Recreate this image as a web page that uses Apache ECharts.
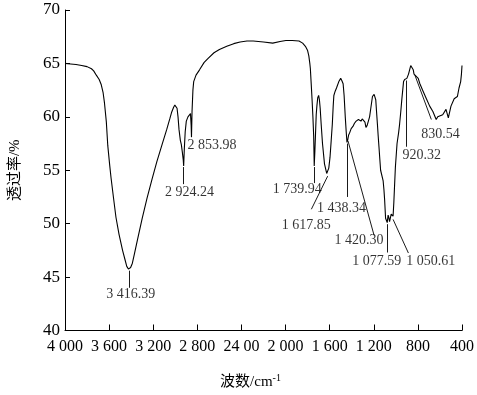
<!DOCTYPE html>
<html>
<head>
<meta charset="utf-8">
<script src="https://cdn.jsdelivr.net/npm/echarts@6/dist/echarts.min.js"></script>
<style>html,body{margin:0;padding:0;background:#fff}#c{width:477px;height:395px}</style>
</head>
<body>
<div id="c"></div>
<script>
// Spectrum: wavenumber (cm-1) and transmittance (%)
var waveNumbers = [4000,3950,3900,3849,3800,3760,3740,3716,3690,3671,3655,3642,3625,3612,3595,3582,3560,3538,3510,3478,3455,3440,3425,3416,3405,3389,3370,3345,3300,3256,3210,3167,3120,3078,3050,3034,3015,3004,2992,2984,2975,2966,2954,2945,2936,2928,2924,2918,2910,2900,2885,2871,2862,2856,2853,2848,2840,2833,2812,2780,2738,2700,2649,2600,2533,2470,2412,2350,2293,2200,2116,2050,1997,1940,1878,1845,1820,1800,1789,1780,1775,1768,1760,1752,1745,1740,1734,1728,1722,1716,1708,1700,1693,1686,1677,1665,1647,1627,1618,1608,1597,1586,1576,1568,1562,1550,1538,1517,1500,1490,1478,1469,1458,1450,1443,1435,1428,1419,1405,1389,1375,1360,1339,1316,1305,1292,1280,1271,1260,1250,1238,1227,1212,1197,1182,1175,1167,1160,1153,1145,1138,1130,1123,1115,1108,1102,1093,1085,1078,1070,1064,1057,1050,1042,1034,1025,1018,1013,1004,989,975,966,955,945,930,920,910,900,885,865,850,842,835,818,797,782,767,753,723,693,664,634,620,604,575,545,524,500,471,442,427,412,405,400];
var transmittance = [65.0,64.95,64.9,64.8,64.7,64.5,64.3,63.9,63.5,63.0,62.3,61.3,59.5,57.3,55.5,54.25,52.4,50.6,49.0,47.5,46.6,46.0,45.75,45.7,45.9,46.3,47.2,48.4,50.5,52.4,54.2,55.8,57.4,58.8,59.8,60.4,60.9,61.1,61.0,60.8,60.0,58.8,57.8,57.4,56.7,56.0,55.4,57.0,58.6,59.6,60.0,60.1,60.3,59.2,58.1,60.5,62.5,63.3,63.9,64.4,65.1,65.5,66.0,66.3,66.6,66.85,67.0,67.1,67.1,67.0,66.9,67.05,67.15,67.15,67.1,66.9,66.6,66.2,65.7,65.0,64.5,63.2,61.7,60.0,58.2,55.4,56.8,58.5,60.2,61.0,61.8,62.0,61.6,60.8,59.3,57.5,55.6,54.7,54.55,55.2,56.2,57.8,59.3,61.0,62.0,62.4,62.7,63.3,63.6,63.4,63.1,62.0,59.9,58.6,57.6,57.9,58.3,58.5,58.9,59.1,59.4,59.6,59.75,59.6,59.8,59.75,59.5,59.0,59.2,59.3,60.0,60.8,61.9,62.1,61.6,60.5,59.3,58.2,57.2,56.0,55.0,55.1,54.9,54.0,53.2,52.3,50.5,50.3,50.1,50.8,50.6,50.2,50.3,50.9,51.0,50.7,52.0,53.2,55.3,57.5,58.5,59.3,60.5,61.7,63.3,63.5,63.5,63.6,64.0,64.8,64.85,64.4,64.0,63.9,63.6,63.1,63.2,62.4,61.7,61.0,60.5,59.75,60.0,59.9,60.2,60.7,59.9,61.0,61.7,61.9,62.7,63.3,64.0,64.8];

// Axis ticks
var xTickValues = [4000,3600,3200,2800,2400,2000,1600,1200,800,400];
var xTickLabels = ["4 000","3 600","3 200","2 800","24 00","2 000","1 600","1 200","800","400"];

// Peak annotations (data units: wavenumber, transmittance)
var peakTexts   = ["3 416.39","2 924.24","2 853.98","1 739.94","1 617.85","1 438.34","1 420.30","1 077.59","1 050.61","920.32","830.54"];
var leaderStart = [[3416,45.6],[2924,55.3],null,[1740,55.3],[1618,54.45],[1443,57.5],[1434,57.75],[1078,49.95],[1025,50.4],[909,63.4],[827,63.9]];
var leaderEnd   = [[3416,44.0],[2924,53.7],null,[1740,53.8],[1766,51.35],[1443,52.5],[1197,48.9],[1078,47.3],[886,47.25],[909,57.2],[678,59.75]];
var labelPos    = [[3404,43.4],[2871,52.9],[2667,57.3],[1893,53.2],[1813,49.85],[1493,51.4],[1333,48.4],[1173,46.5],[684,46.5],[764,56.4],[596,58.4]];

var serif = "'Liberation Serif','Times New Roman','Noto Sans CJK SC',serif";
var spectrum = waveNumbers.map(function(w,i){return [w, transmittance[i]];});
var leaders = [];
leaderStart.forEach(function(s,i){ if(s){ leaders.push([{coord:s},{coord:leaderEnd[i]}]); } });
var labels = labelPos.map(function(p,i){return {value:[p[0],p[1]], text:peakTexts[i]};});

var chart = echarts.init(document.getElementById('c'), null, {renderer:'canvas'});
chart.setOption({
  animation:false,
  backgroundColor:'#fff',
  grid:{left:58,right:14,top:10,bottom:58,containLabel:false},
  xAxis:{
    type:'value', inverse:true, min:400, max:4000, interval:400,
    axisLine:{show:true,onZero:false,lineStyle:{color:'#000',width:1}},
    axisTick:{show:true,inside:true,length:6,lineStyle:{color:'#000'}},
    splitLine:{show:false},
    axisLabel:{color:'#000',fontFamily:serif,fontSize:16,margin:8,
      formatter:function(v){var k=xTickValues.indexOf(v);return k>=0?xTickLabels[k]:'';}},
    name:'波数/cm{sup|-1}', nameLocation:'middle', nameGap:43,
    nameTextStyle:{color:'#000',fontFamily:serif,fontSize:15,padding:[0,26,0,0],
      rich:{sup:{fontSize:10,fontFamily:serif,color:'#000',verticalAlign:'top',padding:[0,0,8,0]}}}
  },
  yAxis:{
    type:'value', min:40, max:70, interval:5,
    axisLine:{show:true,lineStyle:{color:'#000',width:1}},
    axisTick:{show:true,inside:true,length:5,lineStyle:{color:'#000'}},
    splitLine:{show:false},
    axisLabel:{color:'#000',fontFamily:serif,fontSize:17,margin:5},
    name:'透过率/%', nameLocation:'middle', nameGap:42,
    nameTextStyle:{color:'#000',fontFamily:serif,fontSize:15}
  },
  series:[
    {type:'line', data:spectrum, showSymbol:false, symbol:'none',
     lineStyle:{color:'#000',width:1.1}, silent:true,
     markLine:{silent:true,symbol:['none','none'],label:{show:false},
       lineStyle:{color:'#000',width:0.9,type:'solid'},data:leaders}},
    {type:'scatter', data:labels, symbolSize:1, itemStyle:{color:'rgba(0,0,0,0)'}, silent:true,
     label:{show:true,position:'inside',color:'#000',fontFamily:serif,fontSize:14,
       formatter:function(p){return p.data.text;}}}
  ]
});
</script>
</body>
</html>
